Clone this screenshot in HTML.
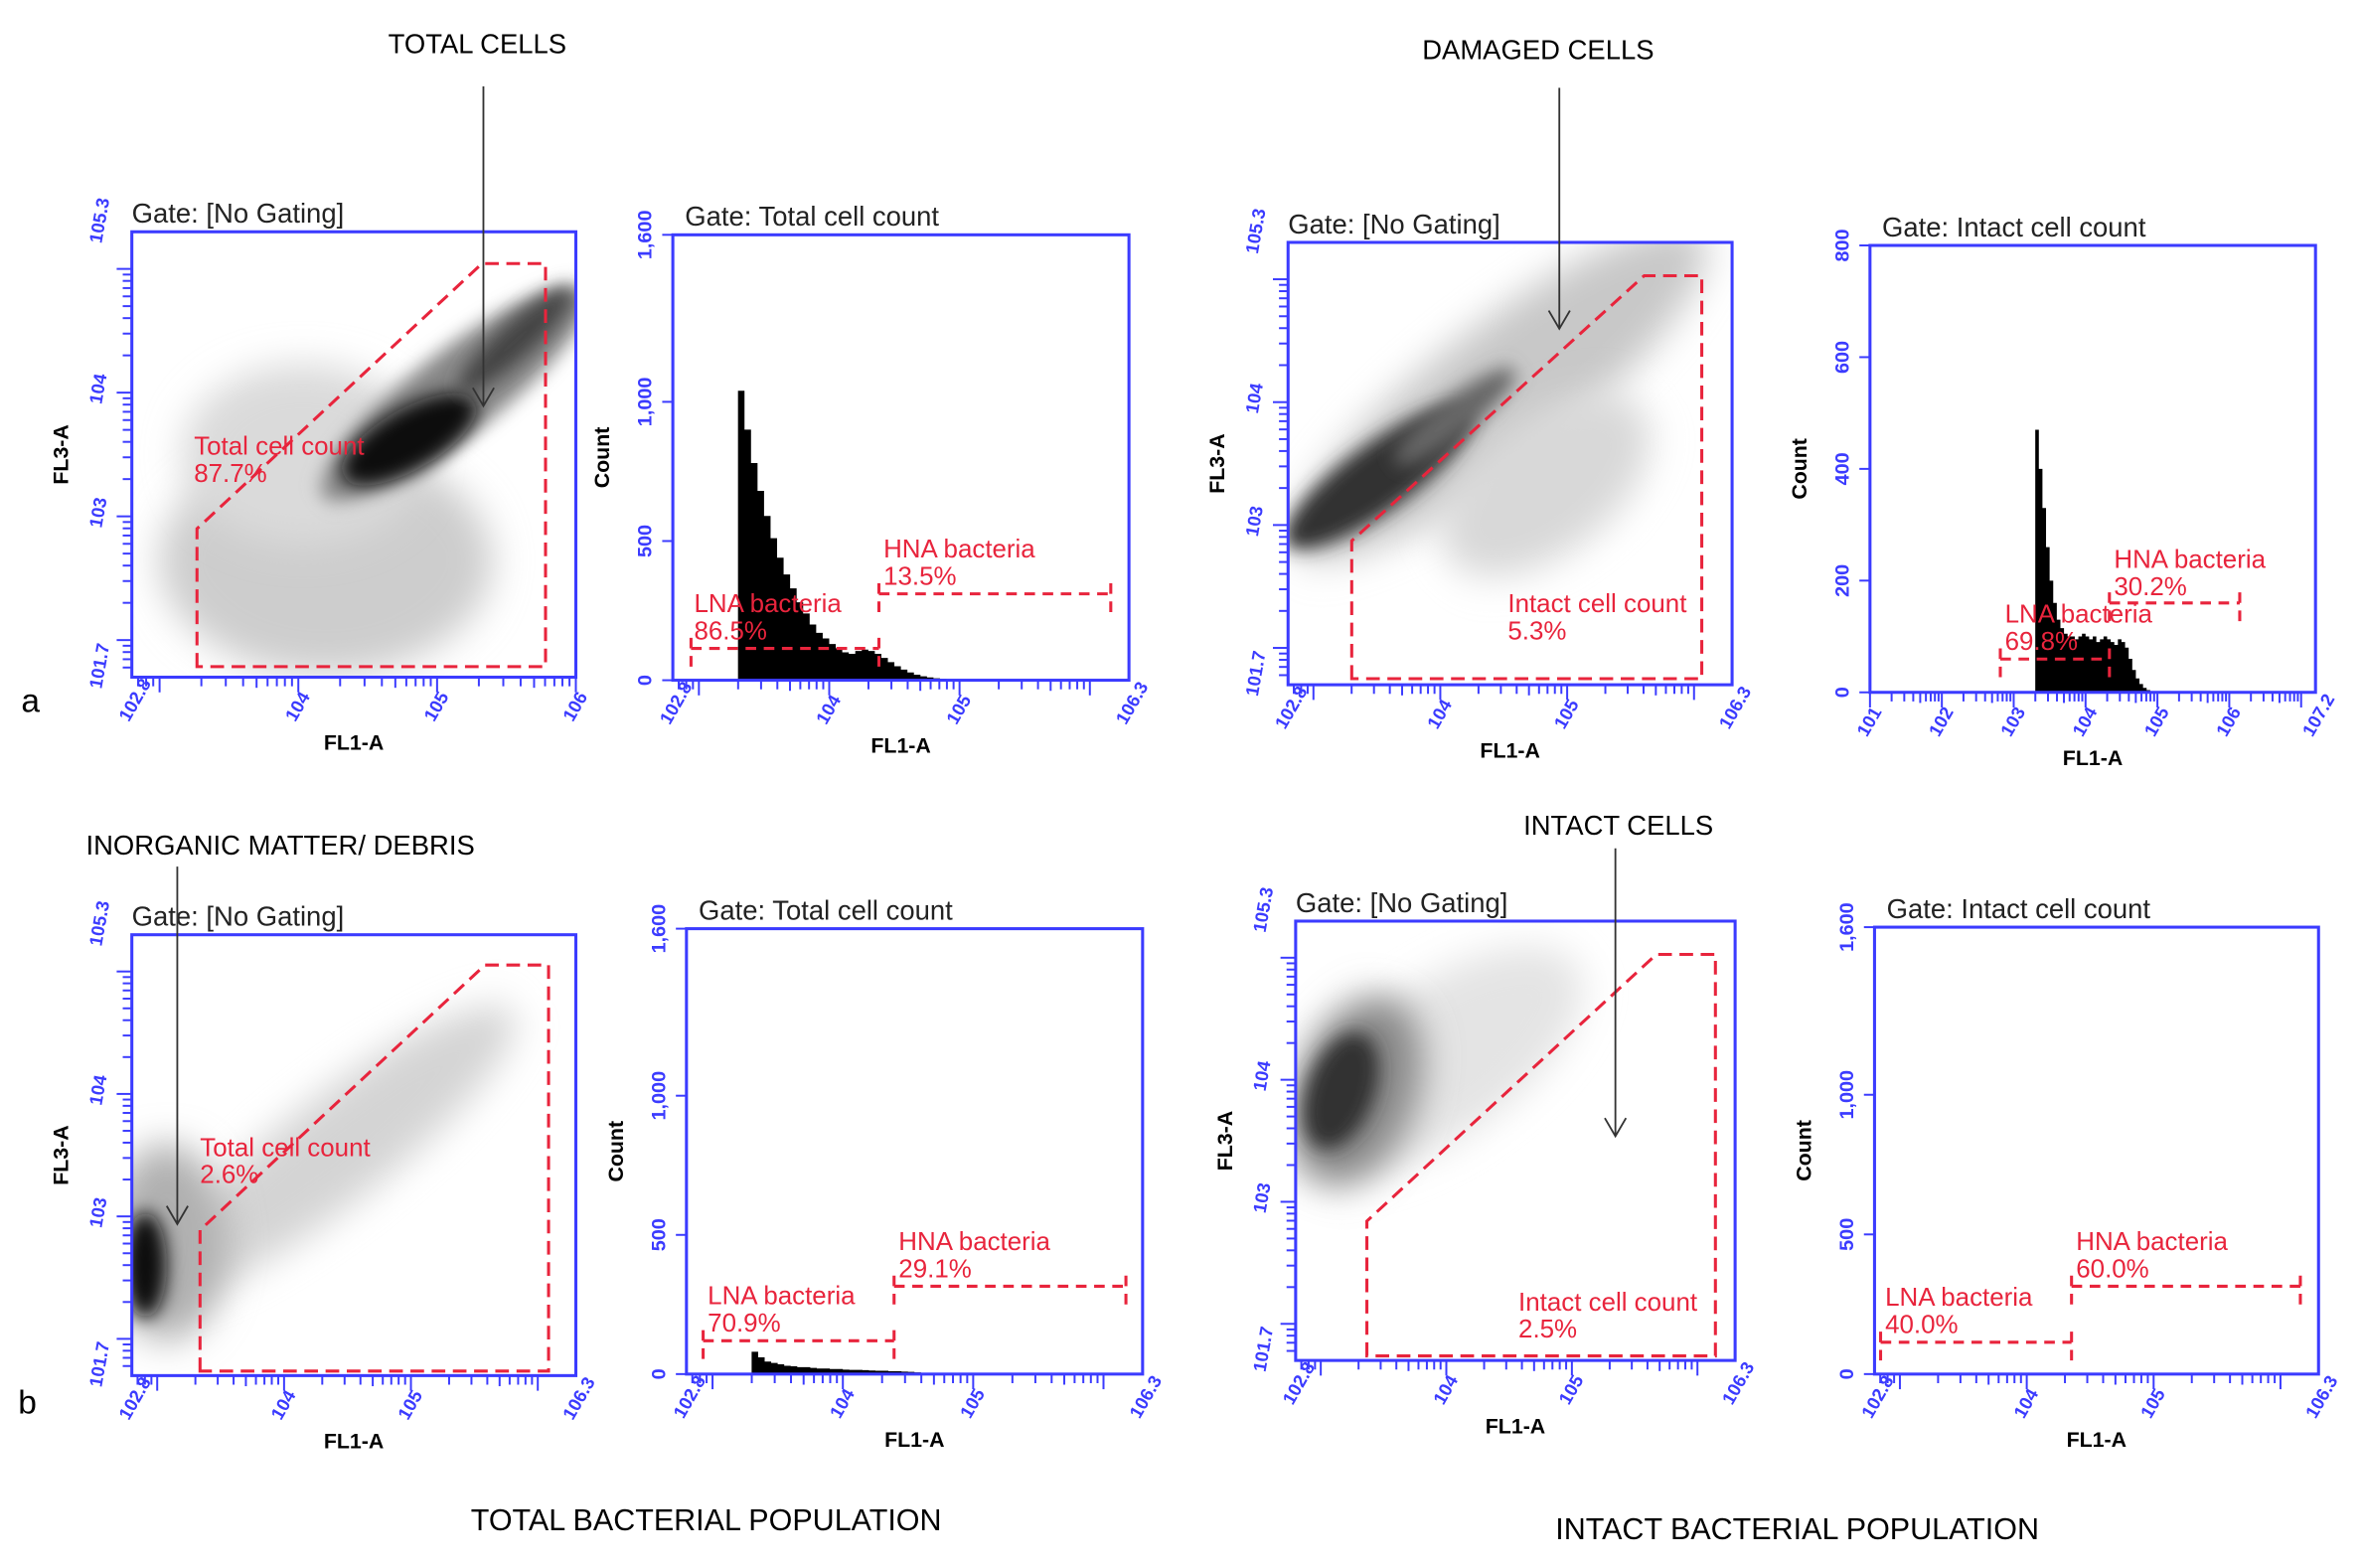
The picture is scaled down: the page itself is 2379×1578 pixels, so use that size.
<!DOCTYPE html>
<html><head><meta charset="utf-8">
<style>
html,body{margin:0;padding:0;background:#fff;}
svg{display:block;}
text{font-family:"Liberation Sans",sans-serif;}
</style></head>
<body>
<svg id="fig" width="2379" height="1578" viewBox="0 0 1560 1035" preserveAspectRatio="none" xmlns="http://www.w3.org/2000/svg">
<defs>
<filter id="b6" x="-50%" y="-50%" width="200%" height="200%"><feGaussianBlur stdDeviation="6"/></filter>
<filter id="b12" x="-50%" y="-50%" width="200%" height="200%"><feGaussianBlur stdDeviation="12"/></filter>
<clipPath id="c1"><rect x="87" y="153" width="293" height="294"/></clipPath>
<clipPath id="c3"><rect x="850" y="160" width="293" height="292"/></clipPath>
<clipPath id="c5"><rect x="87" y="617" width="293" height="291"/></clipPath>
<clipPath id="c7"><rect x="855" y="608" width="290" height="290"/></clipPath>
</defs>

<g clip-path="url(#c1)">
<ellipse cx="215" cy="370" rx="110" ry="75" fill="#cdcdcd" filter="url(#b12)"/>
<ellipse cx="200" cy="300" rx="80" ry="60" fill="#dadada" filter="url(#b12)"/>
<ellipse cx="300" cy="260" rx="110" ry="28" transform="rotate(-38 300 260)" fill="#888" filter="url(#b6)"/>
<ellipse cx="270" cy="290" rx="50" ry="20" transform="rotate(-30 270 290)" fill="#111" filter="url(#b6)"/>
<ellipse cx="340" cy="225" rx="50" ry="12" transform="rotate(-42 340 225)" fill="#444" filter="url(#b6)"/>
</g>
<g clip-path="url(#c3)">
<ellipse cx="990" cy="260" rx="170" ry="45" transform="rotate(-38 990 260)" fill="#c8c8c8" filter="url(#b12)"/>
<ellipse cx="1020" cy="320" rx="80" ry="45" transform="rotate(-38 1020 320)" fill="#d8d8d8" filter="url(#b12)"/>
<ellipse cx="910" cy="315" rx="75" ry="22" transform="rotate(-36 910 315)" fill="#333" filter="url(#b6)"/>
<ellipse cx="960" cy="275" rx="50" ry="12" transform="rotate(-38 960 275)" fill="#666" filter="url(#b6)"/>
</g>
<g clip-path="url(#c5)">
<ellipse cx="220" cy="760" rx="150" ry="35" transform="rotate(-38 220 760)" fill="#d4d4d4" filter="url(#b12)"/>
<ellipse cx="110" cy="820" rx="40" ry="65" fill="#b0b0b0" filter="url(#b12)"/>
<ellipse cx="96" cy="835" rx="14" ry="35" fill="#111" filter="url(#b6)"/>
</g>
<g clip-path="url(#c7)">
<ellipse cx="950" cy="700" rx="110" ry="50" transform="rotate(-35 950 700)" fill="#e4e4e4" filter="url(#b12)"/>
<ellipse cx="895" cy="720" rx="40" ry="65" transform="rotate(20 895 720)" fill="#888" filter="url(#b12)"/>
<ellipse cx="885" cy="720" rx="22" ry="40" transform="rotate(20 885 720)" fill="#333" filter="url(#b6)"/>
</g>

<g id="charts"></g>

<text x="315" y="35" font-size="18" text-anchor="middle">TOTAL CELLS</text>
<line x1="319" y1="57" x2="319" y2="268" stroke="#333" stroke-width="1.2"/>
<path d="M312 256 L319 268 L326 256" fill="none" stroke="#333" stroke-width="1.2"/>
<text x="1015" y="39" font-size="18" text-anchor="middle">DAMAGED CELLS</text>
<line x1="1029" y1="58" x2="1029" y2="217" stroke="#333" stroke-width="1.2"/>
<path d="M1022 205 L1029 217 L1036 205" fill="none" stroke="#333" stroke-width="1.2"/>
<text x="185" y="564" font-size="18" text-anchor="middle">INORGANIC MATTER/ DEBRIS</text>
<line x1="117" y1="572" x2="117" y2="808" stroke="#333" stroke-width="1.2"/>
<path d="M110 796 L117 808 L124 796" fill="none" stroke="#333" stroke-width="1.2"/>
<text x="1068" y="551" font-size="18" text-anchor="middle">INTACT CELLS</text>
<line x1="1066" y1="560" x2="1066" y2="750" stroke="#333" stroke-width="1.2"/>
<path d="M1059 738 L1066 750 L1073 738" fill="none" stroke="#333" stroke-width="1.2"/>
<text x="466" y="1010" font-size="20" text-anchor="middle">TOTAL BACTERIAL POPULATION</text>
<text x="1186" y="1016" font-size="20" text-anchor="middle">INTACT BACTERIAL POPULATION</text>
<text x="14" y="470" font-size="22">a</text>
<text x="12" y="933" font-size="22">b</text>
</svg>

<script>
const a2Start = 3.3;
const a2Counts = [1040,900,780,680,590,510,440,380,330,280,240,200,170,150,130,115,100,95,105,110,105,95,80,65,50,38,28,20,14,10,7,5,3,2,1,1];
const a4Start = 3.3;
const a4Counts = [470,400,330,260,200,160,130,115,105,100,100,95,100,105,100,95,100,90,95,100,95,90,85,95,90,80,60,40,25,15,8,4,2];
const b2Start = 3.3;
const b2Counts = [80,60,45,40,35,30,28,25,25,22,20,20,18,18,16,15,15,14,13,12,12,10,10,9,8,6,4,2];
const b4Start = 3.3;
const b4Counts = [];
const binWidth = 0.05;
const histYTickVals = [0,500,1000,1600];
const a4YTickVals = [0,200,400,600,800];

const NS="http://www.w3.org/2000/svg";
const root=document.getElementById('charts');
function mk(tag,attrs,parent){const e=document.createElementNS(NS,tag);for(const k in attrs)e.setAttribute(k,attrs[k]);(parent||root).appendChild(e);return e;}
function txt(x,y,s,attrs,parent){const t=mk('text',Object.assign({x:x,y:y},attrs||{}),parent);t.textContent=s;return t;}

const BLUE="#3b3bff", RED="#e8243c";

function panel(p){
  const g=mk('g',{});
  
  
  const X=v=>p.x0+(v-p.xmin)/(p.xmax-p.xmin)*(p.x1-p.x0);
  const Y=v=>p.y1-(v-p.ymin)/(p.ymax-p.ymin)*(p.y1-p.y0);
  if(p.counts){
    let d="M"+X(p.start)+" "+p.y1;
    p.counts.forEach((c,i)=>{const xa=X(p.start+i*binWidth),xb=X(p.start+(i+1)*binWidth);d+=" L"+xa+" "+Y(c)+" L"+xb+" "+Y(c);});
    d+=" L"+X(p.start+p.counts.length*binWidth)+" "+p.y1+" Z";
    const h=mk('path',{d:d,fill:"#000"},g);
    
    
  }
  const r=mk('rect',{x:p.x0,y:p.y0,width:p.x1-p.x0,height:p.y1-p.y0,fill:"none",stroke:BLUE,"stroke-width":2},g);
  
  
  for(let dec=Math.floor(p.xmin);dec<=Math.ceil(p.xmax);dec++){
    for(let m=1;m<10;m++){const v=dec+Math.log10(m);if(v<p.xmin||v>p.xmax)continue;
      const L=m==1?10:(m==5?7:6);mk('line',{x1:X(v),y1:p.y1,x2:X(v),y2:p.y1+L,stroke:BLUE,"stroke-width":1.3},g);}
  }
  p.xlabels.forEach(v=>{const t=txt(X(v)-2,p.y1+30,"10"+(v%1?v.toFixed(1):v),{fill:BLUE,"font-size":12,"font-weight":"bold",transform:"rotate(-60 "+(X(v)-2)+" "+(p.y1+30)+")"},g);
    });
  if(p.log){
    for(let dec=Math.floor(p.ymin);dec<=Math.ceil(p.ymax);dec++){
      for(let m=1;m<10;m++){const v=dec+Math.log10(m);if(v<p.ymin||v>p.ymax)continue;
        const L=m==1?10:6;mk('line',{x1:p.x0,y1:Y(v),x2:p.x0-L,y2:Y(v),stroke:BLUE,"stroke-width":1.3},g);}
    }
    p.ylabels.forEach(v=>{const t=txt(p.x0-20,Y(v)+8,"10"+(v%1?v.toFixed(1):v),{fill:BLUE,"font-size":12,"font-weight":"bold",transform:"rotate(-80 "+(p.x0-20)+" "+(Y(v)+8)+")"},g);
      });
  } else {
    p.yticks.forEach(v=>{mk('line',{x1:p.x0,y1:Y(v),x2:p.x0-7,y2:Y(v),stroke:BLUE,"stroke-width":1.3},g);
      const s=v>=1000?Math.floor(v/1000)+","+String(v%1000).padStart(3,"0"):String(v);
      const t=txt(p.x0-14,Y(v),s,{fill:BLUE,"font-size":13,"font-weight":"bold","text-anchor":"middle",transform:"rotate(-90 "+(p.x0-14)+" "+Y(v)+")"},g);
      });
  }
  const xt=txt((p.x0+p.x1)/2,p.y1+48,"FL1-A",{"font-size":14,"font-weight":"bold","text-anchor":"middle"},g);
  
  const yl=p.log?"FL3-A":"Count"; const yx=p.x0-42, yy=(p.y0+p.y1)/2;
  const yt=txt(yx,yy,yl,{"font-size":14,"font-weight":"bold","text-anchor":"middle",transform:"rotate(-90 "+yx+" "+yy+")"},g);
  
  const tt=txt(p.x0+(p.log?0:8),p.y0-6,p.title,{"font-size":18,fill:"#222"},g);
  
  return {g,X,Y};
}
function gatePoly(pts,g){const pl=mk('polygon',{points:pts,fill:"none",stroke:RED,"stroke-width":2,"stroke-dasharray":"9 5"},g);
  }
function label(x,y,a,b,g){const t1=txt(x,y,a,{fill:RED,"font-size":17},g);
  const t2=txt(x,y+18,b,{fill:RED,"font-size":17},g);}
function bracket(xa,xb,y,g){const pth=mk('path',{d:"M"+xa+" "+(y+12)+" L"+xa+" "+(y-12)+" M"+xa+" "+y+" L"+xb+" "+y+" M"+xb+" "+(y+12)+" L"+xb+" "+(y-12),fill:"none",stroke:RED,"stroke-width":2,"stroke-dasharray":"7 5"},g);
  }

let P=panel({name:"panel-a-total-scatter",x0:87,x1:380,y0:153,y1:447,xmin:2.8,xmax:6,ymin:1.7,ymax:5.3,log:true,xlabels:[2.8,4,5,6],ylabels:[1.7,3,4,5.3],title:"Gate: [No Gating]"});
gatePoly("130,440 130,349 318,174 360,174 360,440",P.g); label(128,300,"Total cell count","87.7%",P.g);
P=panel({name:"panel-a-total-histogram",x0:444,x1:745,y0:155,y1:449,xmin:2.8,xmax:6.3,ymin:0,ymax:1600,yticks:histYTickVals,xlabels:[2.8,4,5,6.3],title:"Gate: Total cell count",counts:a2Counts,start:a2Start});
bracket(456,580,428,P.g);bracket(580,733,392,P.g);label(458,404,"LNA bacteria","86.5%",P.g);label(583,368,"HNA bacteria","13.5%",P.g);
P=panel({name:"panel-a-intact-scatter",x0:850,x1:1143,y0:160,y1:452,xmin:2.8,xmax:6.3,ymin:1.7,ymax:5.3,log:true,xlabels:[2.8,4,5,6.3],ylabels:[1.7,3,4,5.3],title:"Gate: [No Gating]"});
gatePoly("892,448 892,357 1085,182 1123,182 1123,448",P.g); label(995,404,"Intact cell count","5.3%",P.g);
P=panel({name:"panel-a-intact-histogram",x0:1234,x1:1528,y0:162,y1:457,xmin:1,xmax:7.2,ymin:0,ymax:800,yticks:a4YTickVals,xlabels:[1,2,3,4,5,6,7.2],title:"Gate: Intact cell count",counts:a4Counts,start:a4Start});
bracket(1320,1392,435,P.g);bracket(1392,1478,398,P.g);label(1323,411,"LNA bacteria","69.8%",P.g);label(1395,375,"HNA bacteria","30.2%",P.g);
P=panel({name:"panel-b-total-scatter",x0:87,x1:380,y0:617,y1:908,xmin:2.8,xmax:6.3,ymin:1.7,ymax:5.3,log:true,xlabels:[2.8,4,5,6.3],ylabels:[1.7,3,4,5.3],title:"Gate: [No Gating]"});
gatePoly("132,905 132,812 320,637 362,637 362,905",P.g); label(132,763,"Total cell count","2.6%",P.g);
P=panel({name:"panel-b-total-histogram",x0:453,x1:754,y0:613,y1:907,xmin:2.8,xmax:6.3,ymin:0,ymax:1600,yticks:histYTickVals,xlabels:[2.8,4,5,6.3],title:"Gate: Total cell count",counts:b2Counts,start:b2Start});
bracket(464,590,885,P.g);bracket(590,743,849,P.g);label(467,861,"LNA bacteria","70.9%",P.g);label(593,825,"HNA bacteria","29.1%",P.g);
P=panel({name:"panel-b-intact-scatter",x0:855,x1:1145,y0:608,y1:898,xmin:2.8,xmax:6.3,ymin:1.7,ymax:5.3,log:true,xlabels:[2.8,4,5,6.3],ylabels:[1.7,3,4,5.3],title:"Gate: [No Gating]"});
gatePoly("902,895 902,806 1093,630 1132,630 1132,895",P.g); label(1002,865,"Intact cell count","2.5%",P.g);
P=panel({name:"panel-b-intact-histogram",x0:1237,x1:1530,y0:612,y1:907,xmin:2.8,xmax:6.3,ymin:0,ymax:1600,yticks:histYTickVals,xlabels:[2.8,4,5,6.3],title:"Gate: Intact cell count",counts:b4Counts,start:b4Start});
bracket(1241,1367,886,P.g);bracket(1367,1518,849,P.g);label(1244,862,"LNA bacteria","40.0%",P.g);label(1370,825,"HNA bacteria","60.0%",P.g);
</script>
</body></html>
